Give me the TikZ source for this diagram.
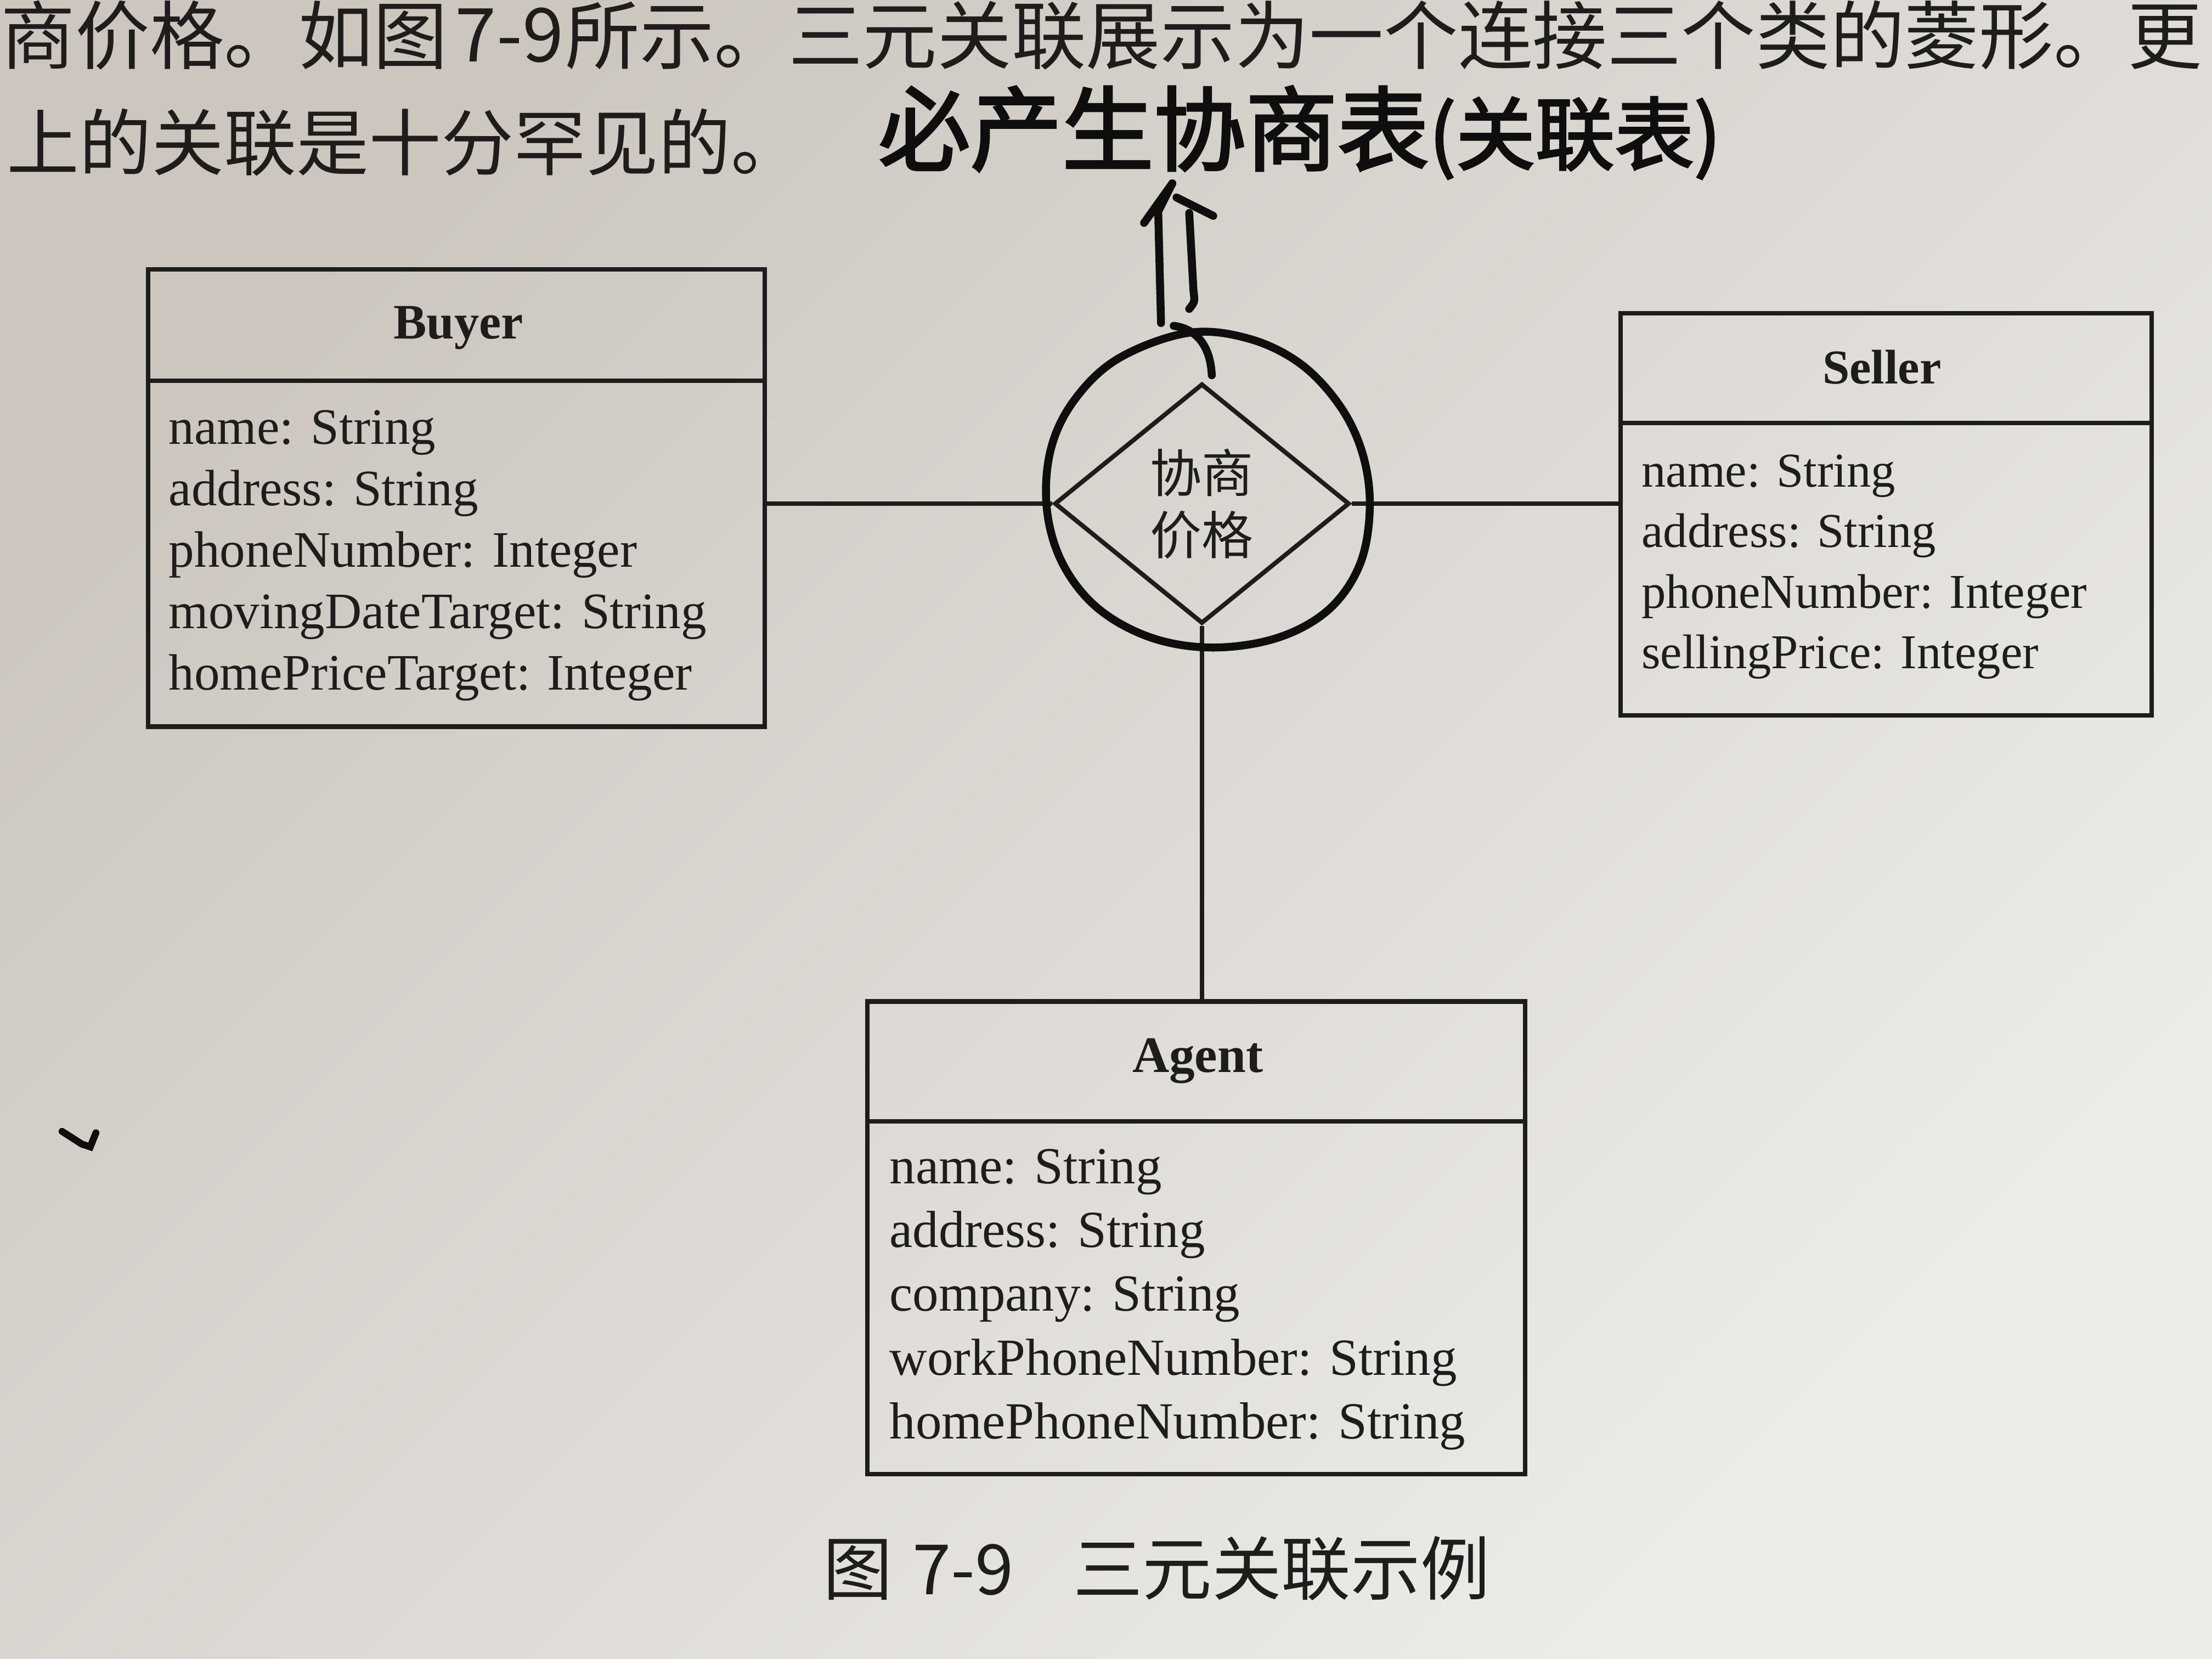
\documentclass[tikz,border=0pt]{standalone}
\usepackage{fontspec}
\setmainfont{Liberation Serif}
\newfontfamily\cjk{Noto Sans CJK SC}
\newfontfamily\hand[FakeBold=2.5]{Noto Sans CJK SC}
\usetikzlibrary{shapes.geometric}
\definecolor{ink}{RGB}{30,29,28}
\definecolor{paperA}{RGB}{204,198,191}
\definecolor{paperB}{RGB}{237,236,233}
\definecolor{pen}{RGB}{14,14,14}
\begin{document}
\begin{tikzpicture}[x=0.01cm,y=-0.01cm,
  classbox/.style={draw=ink, line width=0.9pt, rectangle, inner sep=0pt},
  sep/.style={draw=ink, line width=0.9pt},
  conn/.style={draw=ink, line width=0.9pt},
  ctitle/.style={text=ink, inner sep=0pt, font=\bfseries\fontsize{#1}{12}\selectfont},
  cattr/.style={text=ink, inner sep=0pt, anchor=base west, font=\fontsize{#1}{12}\selectfont},
  assoc/.style={draw=ink, line width=0.9pt, diamond, aspect=1.23, minimum width=2.09cm,
    minimum height=1.70cm, inner sep=0pt, align=center, text=ink,
    font=\cjk\fontsize{10.4}{12.5}\selectfont},
  penline/.style={draw=pen, line width=1.6pt, line cap=round, line join=round},
  bodytext/.style={text=ink, inner sep=0pt, anchor=west, font=\cjk\fontsize{#1}{18}\selectfont}
]
\useasboundingbox (0,0) rectangle (1568,1176);
\clip (0,0) rectangle (1568,1176);
\shade[top color=paperA, bottom color=paperB, shading angle=45] (0,0) rectangle (1568,1176);

% printed body text
\node[bodytext=15] (t1a) at (0,25) {商价格。如图};
\node[bodytext=15] (t1b) at (322,25) {7-9};
\node[bodytext=15] (t1c) at (400,25) {所示。三元关联展示为一个连接三个类的菱形。更};
\node[bodytext=14.6] (t2) at (4,101) {上的关联是十分罕见的。};

% Buyer
\node[classbox, minimum width=4.37cm, minimum height=3.24cm] (buyer) at (323.5,353) {};
\draw[sep] (buyer.west |- 0,270) -- (buyer.east |- 0,270);
\node[ctitle=10, anchor=base] (buyerT) at (325,240) {Buyer};
\foreach \t [count=\i] in {name: String, address: String, phoneNumber: Integer,
  movingDateTarget: String, homePriceTarget: Integer}
  \node[cattr=10.3] (buyerA\i) at (119,{315+43.5*(\i-1)}) {\t};

% Seller
\node[classbox, minimum width=3.76cm, minimum height=2.85cm] (seller) at (1337,364.5) {};
\draw[sep] (seller.west |- 0,300) -- (seller.east |- 0,300);
\node[ctitle=9.8, anchor=base] (sellerT) at (1334,272) {Seller};
\foreach \t [count=\i] in {name: String, address: String, phoneNumber: Integer,
  sellingPrice: Integer}
  \node[cattr=9.8] (sellerA\i) at (1163,{345+43*(\i-1)}) {\t};

% Agent
\node[classbox, minimum width=4.66cm, minimum height=3.35cm] (agent) at (848,877.5) {};
\draw[sep] (agent.west |- 0,795) -- (agent.east |- 0,795);
\node[ctitle=10.3, anchor=base] (agentT) at (849,760) {Agent};
\foreach \t [count=\i] in {name: String, address: String, company: String,
  workPhoneNumber: String, homePhoneNumber: String}
  \node[cattr=10.5] (agentA\i) at (630,{839+45.2*(\i-1)}) {\t};

% association diamond
\node[assoc] (assoc) at (852,357) {协商\\价格};
\draw[conn] (assoc.west) -- (assoc.west -| buyer.east);
\draw[conn] (assoc.east) -- (assoc.east -| seller.west);
\draw[conn] (assoc.south) -- (assoc.south |- agent.north);

% caption
\node[bodytext=14, text=ink] (cap) at (583,1112) {图\hspace{0.14cm}7-9\hspace{0.42cm}三元关联示例};

% handwritten annotation
\draw[penline] plot[smooth cycle, tension=0.6] coordinates {
  (842,236) (885,240) (922,258) (950,288) (966,322) (971,360) (964,400)
  (942,432) (906,452) (860,459) (816,452) (778,431) (753,399) (742,360)
  (745,318) (762,283) (793,254)};
\draw[penline] (832,231) .. controls (848,233) and (858,245) .. (859,266);
\draw[penline] (823,229) -- (821,150) -- (831,130);
\draw[penline] (831,130) -- (811,158);
\draw[penline] (834,140) -- (860,153);
\draw[penline] (843,151) -- (846,206) .. controls (847,214) .. (843,219);
\node[text=pen, inner sep=0pt, anchor=west, font=\hand\fontsize{18.5}{20}\selectfont] (note)
  at (622,94) {必产生协商表\fontsize{16}{18}\selectfont(关联表)};
\draw[draw=pen, line width=1.4pt, line cap=round] (44,802) -- (58,811) -- (64,813) -- (68,803);
\end{tikzpicture}
\end{document}
